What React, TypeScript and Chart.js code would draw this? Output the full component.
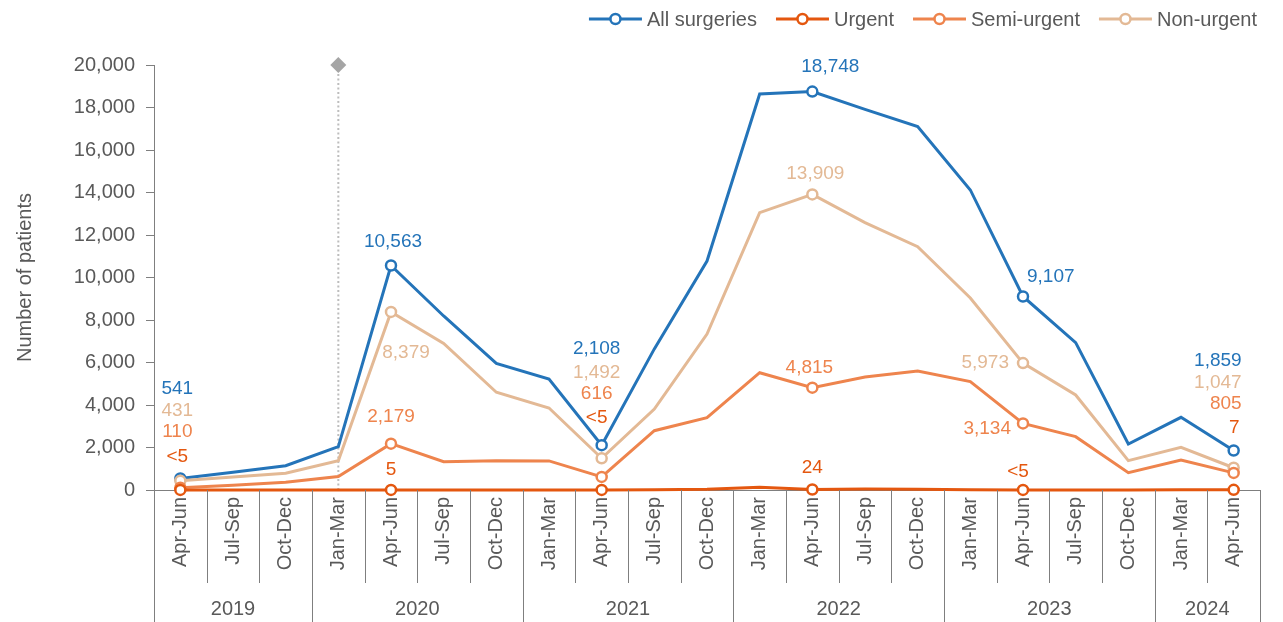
import React, { useEffect, useRef } from "react";
import { Chart, registerables } from "chart.js";

Chart.register(...registerables);

const categories = [
  "Apr-Jun", "Jul-Sep", "Oct-Dec",
  "Jan-Mar", "Apr-Jun", "Jul-Sep", "Oct-Dec",
  "Jan-Mar", "Apr-Jun", "Jul-Sep", "Oct-Dec",
  "Jan-Mar", "Apr-Jun", "Jul-Sep", "Oct-Dec",
  "Jan-Mar", "Apr-Jun", "Jul-Sep", "Oct-Dec",
  "Jan-Mar", "Apr-Jun",
];
const years = ["2019", "2020", "2021", "2022", "2023", "2024"];
const yearCounts = [3, 4, 4, 4, 4, 2];

const allSurgeries = [541, 840, 1144, 2040, 10563, 8190, 5960, 5220, 2108, 6640, 10776, 18635, 18748, 17915, 17100, 14120, 9107, 6933, 2165, 3420, 1859];
const urgent = [3, 4, 4, 4, 5, 4, 4, 4, 3, 15, 30, 125, 24, 45, 35, 10, 3, 5, 5, 6, 7];
const semiUrgent = [110, 220, 360, 630, 2179, 1330, 1380, 1370, 616, 2790, 3400, 5520, 4815, 5320, 5600, 5100, 3134, 2510, 815, 1410, 805];
const nonUrgent = [431, 610, 785, 1380, 8379, 6900, 4600, 3860, 1492, 3810, 7340, 13050, 13909, 12580, 11450, 9035, 5973, 4470, 1380, 2010, 1047];

const markerIndices = [0, 4, 8, 12, 16, 20];
const allLabels = ["541", "10,563", "2,108", "18,748", "9,107", "1,859"];
const urgentLabels = ["<5", "5", "<5", "24", "<5", "7"];
const semiLabels = ["110", "2,179", "616", "4,815", "3,134", "805"];
const nonLabels = ["431", "8,379", "1,492", "13,909", "5,973", "1,047"];

const yMin = 0;
const yMax = 20000;
const yStep = 2000;
const eventIndex = 3;
const yTitle = "Number of patients";

// styling
const FONT = "'Liberation Sans', Arial, sans-serif";
const TEXT = "#595959";
const AXIS = "#7f7f7f";
const C_ALL = "#2474b9";
const C_URG = "#e4570f";
const C_SEMI = "#ee844d";
const C_NON = "#e3b995";

// label offsets [dx, dy, align] per marker index
const offAll: [number, number, CanvasTextAlign][] = [[-3, -90], [2, -24], [-5, -96], [18, -25], [4, -20], [8, -90]].map((o, i) => [o[0], o[1], i === 4 ? "left" : i === 5 ? "right" : "center"] as any);
const offNon: [number, number, CanvasTextAlign][] = [[-3, -70], [15, 41], [-5, -86], [3, -21], [-14, 0], [8, -85]].map((o, i) => [o[0], o[1], i === 4 ? "right" : i === 5 ? "right" : "center"] as any);
const offSemi: [number, number, CanvasTextAlign][] = [[-3, -56], [0, -27], [-5, -83], [-3, -20], [-12, 5], [8, -69]].map((o, i) => [o[0], o[1], i === 4 ? "right" : i === 5 ? "right" : "center"] as any);
const offUrg: [number, number, CanvasTextAlign][] = [[-3, -33], [0, -20], [-5, -72], [0, -22], [-5, -18], [6, -62]].map((o, i) => [o[0], o[1], i === 5 ? "right" : "center"] as any);

const seriesDefs = [
  { label: "All surgeries", data: allSurgeries, color: C_ALL, labels: allLabels, offs: offAll, order: 4 },
  { label: "Urgent", data: urgent, color: C_URG, labels: urgentLabels, offs: offUrg, order: 1 },
  { label: "Semi-urgent", data: semiUrgent, color: C_SEMI, labels: semiLabels, offs: offSemi, order: 2 },
  { label: "Non-urgent", data: nonUrgent, color: C_NON, labels: nonLabels, offs: offNon, order: 3 },
];

const decorPlugin = {
  id: "decor",
  beforeDatasetsDraw(chart: any) {
    const { ctx } = chart;
    const xs = chart.scales.x;
    const ys = chart.scales.y;
    const x = xs.getPixelForValue(eventIndex);
    const yTop = ys.getPixelForValue(yMax);
    ctx.save();
    ctx.strokeStyle = "#bdbdbd";
    ctx.lineWidth = 2;
    ctx.setLineDash([2, 2.5]);
    ctx.beginPath();
    ctx.moveTo(x, yTop);
    ctx.lineTo(x, chart.chartArea.bottom);
    ctx.stroke();
    ctx.setLineDash([]);
    ctx.fillStyle = "#a5a5a5";
    const s = 8;
    ctx.beginPath();
    ctx.moveTo(x, yTop - s);
    ctx.lineTo(x + s, yTop);
    ctx.lineTo(x, yTop + s);
    ctx.lineTo(x - s, yTop);
    ctx.closePath();
    ctx.fill();
    ctx.restore();
  },
  afterDraw(chart: any) {
    const { ctx, chartArea: ca } = chart;
    const xs = chart.scales.x;
    const n = categories.length;
    const boundary = (i: number) => {
      if (i <= 0) return ca.left;
      if (i >= n) return ca.right;
      return (xs.getPixelForValue(i - 1) + xs.getPixelForValue(i)) / 2;
    };
    const yearStarts: number[] = [0];
    yearCounts.forEach((c) => yearStarts.push(yearStarts[yearStarts.length - 1] + c));
    ctx.save();
    ctx.strokeStyle = AXIS;
    ctx.lineWidth = 1;
    for (let i = 0; i <= n; i++) {
      const bx = Math.round(boundary(i)) + 0.5;
      const isYear = yearStarts.includes(i);
      ctx.beginPath();
      ctx.moveTo(bx, ca.bottom);
      ctx.lineTo(bx, isYear ? chart.height : ca.bottom + 93);
      ctx.stroke();
    }
    // year labels
    ctx.fillStyle = TEXT;
    ctx.font = `20px ${FONT}`;
    ctx.textAlign = "center";
    ctx.textBaseline = "middle";
    years.forEach((y, k) => {
      const x0 = boundary(yearStarts[k]);
      const x1 = boundary(yearStarts[k + 1]);
      ctx.fillText(y, (x0 + x1) / 2, 609);
    });

    // data labels
    const ys = chart.scales.y;
    ctx.font = `19px ${FONT}`;
    seriesDefs.forEach((s) => {
      ctx.fillStyle = s.color;
      markerIndices.forEach((idx, j) => {
        const px = xs.getPixelForValue(idx);
        const py = ys.getPixelForValue(s.data[idx]);
        const [dx, dy, al] = s.offs[j];
        ctx.textAlign = al;
        ctx.fillText(s.labels[j], px + dx, py + dy);
      });
    });

    // legend
    ctx.font = `20px ${FONT}`;
    ctx.textBaseline = "middle";
    ctx.textAlign = "left";
    const lineLen = 53;
    const gapText = 5;
    const gapItem = 19;
    const widths = seriesDefs.map((s) => lineLen + gapText + ctx.measureText(s.label).width);
    const total = widths.reduce((a, b) => a + b, 0) + gapItem * (widths.length - 1);
    let lx = 1257 - total;
    const ly = 19;
    seriesDefs.forEach((s, i) => {
      ctx.strokeStyle = s.color;
      ctx.lineWidth = 3;
      ctx.beginPath();
      ctx.moveTo(lx, ly);
      ctx.lineTo(lx + lineLen, ly);
      ctx.stroke();
      ctx.beginPath();
      ctx.arc(lx + lineLen / 2, ly, 5, 0, Math.PI * 2);
      ctx.fillStyle = "#ffffff";
      ctx.fill();
      ctx.lineWidth = 2.5;
      ctx.stroke();
      ctx.fillStyle = TEXT;
      ctx.fillText(s.label, lx + lineLen + gapText, ly + 1);
      lx += widths[i] + gapItem;
    });
    ctx.restore();
  },
};

export default function App() {
  const canvasRef = useRef<HTMLCanvasElement | null>(null);

  useEffect(() => {
    document.body.style.margin = "0";
    const canvas = canvasRef.current;
    if (!canvas) return;
    const chart = new Chart(canvas, {
      type: "line",
      data: {
        labels: categories,
        datasets: seriesDefs.map((s) => ({
          label: s.label,
          data: s.data,
          borderColor: s.color,
          backgroundColor: "#ffffff",
          borderWidth: 3,
          pointRadius: (c: any) => (markerIndices.includes(c.dataIndex) ? 5 : 0),
          pointBorderWidth: 2.5,
          pointBackgroundColor: "#ffffff",
          pointBorderColor: s.color,
          tension: 0,
          clip: false as any,
          order: s.order,
        })),
      },
      options: {
        animation: false,
        responsive: true,
        maintainAspectRatio: false,
        layout: { padding: { top: 65, right: 23, bottom: 0, left: 0 } },
        plugins: {
          legend: { display: false },
          tooltip: { enabled: false },
        },
        scales: {
          x: {
            offset: true,
            grid: { display: false, drawTicks: false },
            border: { display: true, color: AXIS, width: 1 },
            ticks: {
              autoSkip: false,
              minRotation: 90,
              maxRotation: 90,
              padding: 7,
              color: TEXT,
              font: { family: FONT, size: 20 },
            },
            afterFit: (scale: any) => {
              scale.height = 132;
            },
          },
          y: {
            min: yMin,
            max: yMax,
            ticks: {
              stepSize: yStep,
              padding: 11,
              color: TEXT,
              font: { family: FONT, size: 20 },
              callback: (v: any) => Number(v).toLocaleString("en-US"),
            },
            grid: {
              display: true,
              drawOnChartArea: false,
              drawTicks: true,
              tickLength: 8,
              color: AXIS,
            },
            border: { display: true, color: AXIS, width: 1 },
            title: {
              display: true,
              text: yTitle,
              color: TEXT,
              font: { family: FONT, size: 20 },
              padding: { top: 13, bottom: 0 },
            },
            afterFit: (scale: any) => {
              scale.width = 154;
            },
          },
        },
      },
      plugins: [decorPlugin],
    });
    return () => chart.destroy();
  }, []);

  return (
    <div style={{ position: "relative", width: 1283, height: 622 }}>
      <canvas ref={canvasRef} />
    </div>
  );
}
